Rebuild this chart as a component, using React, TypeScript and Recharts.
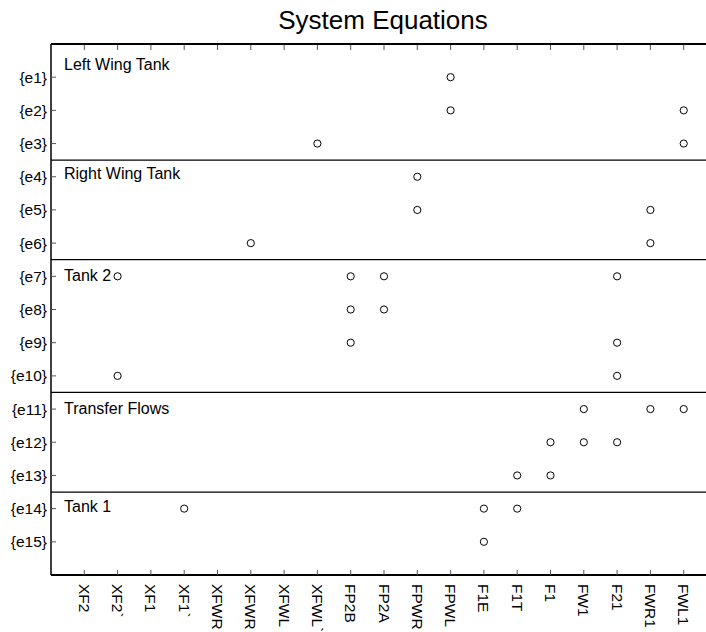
import { ScatterChart, Scatter, XAxis, YAxis, ReferenceLine } from "recharts";

const variables = [
  "XF2", "XF2`", "XF1", "XF1`", "XFWR", "XFWR", "XFWL", "XFWL`",
  "FP2B", "FP2A", "FPWR", "FPWL", "F1E", "F1T", "F1", "FW1", "F21", "FWR1", "FWL1",
];
const equations = [
  "{e1}", "{e2}", "{e3}", "{e4}", "{e5}", "{e6}", "{e7}", "{e8}",
  "{e9}", "{e10}", "{e11}", "{e12}", "{e13}", "{e14}", "{e15}",
];
// column numbers (1-based, into variables) used by each equation
const incidence = [
  [12], [12, 19], [8, 19],
  [11], [11, 18], [6, 18],
  [2, 9, 10, 17], [9, 10], [9, 17], [2, 17],
  [16, 18, 19], [15, 16, 17], [14, 15],
  [4, 13, 14], [13],
];
const separators = [3.5, 6.5, 10.5, 13.5];
const groupNames = ["Left Wing Tank", "Right Wing Tank", "Tank 2", "Transfer Flows", "Tank 1"];
const groupRows = [0.63, 3.9, 6.97, 10.97, 13.95];

const FONT = '"Liberation Sans", Arial, sans-serif';

const points = incidence.flatMap((cols, i) => cols.map((c) => ({ x: c, y: i + 1 })));
const groupLabels = groupNames.map((name, i) => ({ x: 0.39, y: groupRows[i], name }));
const xTicks = variables.map((_, i) => i + 1);
const yTicks = equations.map((_, i) => i + 1);

function BottomTick({ x, y, payload }: any) {
  const ty = y + 9;
  return (
    <g>
      <line x1={x} y1={y} x2={x} y2={y - 5} stroke="#555" />
      <text
        x={x}
        y={ty}
        transform={`rotate(90 ${x} ${ty})`}
        textAnchor="start"
        dominantBaseline="central"
        fontSize={15.5}
        fontFamily={FONT}
        fill="#000"
      >
        {variables[payload.value - 1]}
      </text>
    </g>
  );
}

function TopTick({ x, y }: any) {
  return <line x1={x} y1={y + 1} x2={x} y2={y + 6} stroke="#555" />;
}

function LeftTick({ x, y, payload }: any) {
  return (
    <g>
      <line x1={x} y1={y} x2={x + 5} y2={y} stroke="#555" />
      <text
        x={x - 4}
        y={y}
        textAnchor="end"
        dominantBaseline="central"
        fontSize={15.5}
        fontFamily={FONT}
        fill="#000"
      >
        {equations[payload.value - 1]}
      </text>
    </g>
  );
}

function GroupText({ cx, cy, payload }: any) {
  return (
    <text x={cx} y={cy} dominantBaseline="central" fontSize={16} fontFamily={FONT} fill="#000">
      {payload.name}
    </text>
  );
}

export default function App() {
  return (
    <div
      style={{
        position: "fixed",
        left: 0,
        top: 0,
        width: 706,
        height: 632,
        overflow: "hidden",
        background: "#fff",
      }}
    >
      <div
        style={{
          position: "absolute",
          left: 0,
          top: 5,
          width: 766,
          textAlign: "center",
          fontFamily: FONT,
          fontSize: 26,
          lineHeight: "30px",
        }}
      >
        System Equations
      </div>
      <ScatterChart width={728} height={632} margin={{ top: 43, right: 11, bottom: 0, left: 0 }}>
        <XAxis
          type="number"
          dataKey="x"
          domain={[0, 20]}
          ticks={xTicks}
          interval={0}
          height={57}
          tickSize={0}
          tickMargin={0}
          tickLine={false}
          tick={<BottomTick />}
          axisLine={{ stroke: "#000", strokeWidth: 2 }}
          allowDataOverflow
        />
        <XAxis
          xAxisId="top"
          orientation="top"
          type="number"
          dataKey="x"
          domain={[0, 20]}
          ticks={xTicks}
          interval={0}
          height={1}
          tickSize={0}
          tickMargin={0}
          tickLine={false}
          tick={<TopTick />}
          axisLine={{ stroke: "#000", strokeWidth: 2 }}
          allowDataOverflow
        />
        <YAxis
          type="number"
          dataKey="y"
          domain={[0, 16]}
          reversed
          ticks={yTicks}
          interval={0}
          width={51}
          tickSize={0}
          tickMargin={0}
          tickLine={false}
          tick={<LeftTick />}
          axisLine={{ stroke: "#000", strokeWidth: 1.5 }}
          allowDataOverflow
        />
        {separators.map((s) => (
          <ReferenceLine key={s} y={s} stroke="#000" strokeWidth={1.2} />
        ))}
        <Scatter
          data={points}
          isAnimationActive={false}
          shape={(p: any) => (
            <circle cx={p.cx} cy={p.cy} r={3.6} fill="none" stroke="#000" strokeWidth={1} />
          )}
        />
        <Scatter data={groupLabels} isAnimationActive={false} shape={<GroupText />} />
      </ScatterChart>
    </div>
  );
}
